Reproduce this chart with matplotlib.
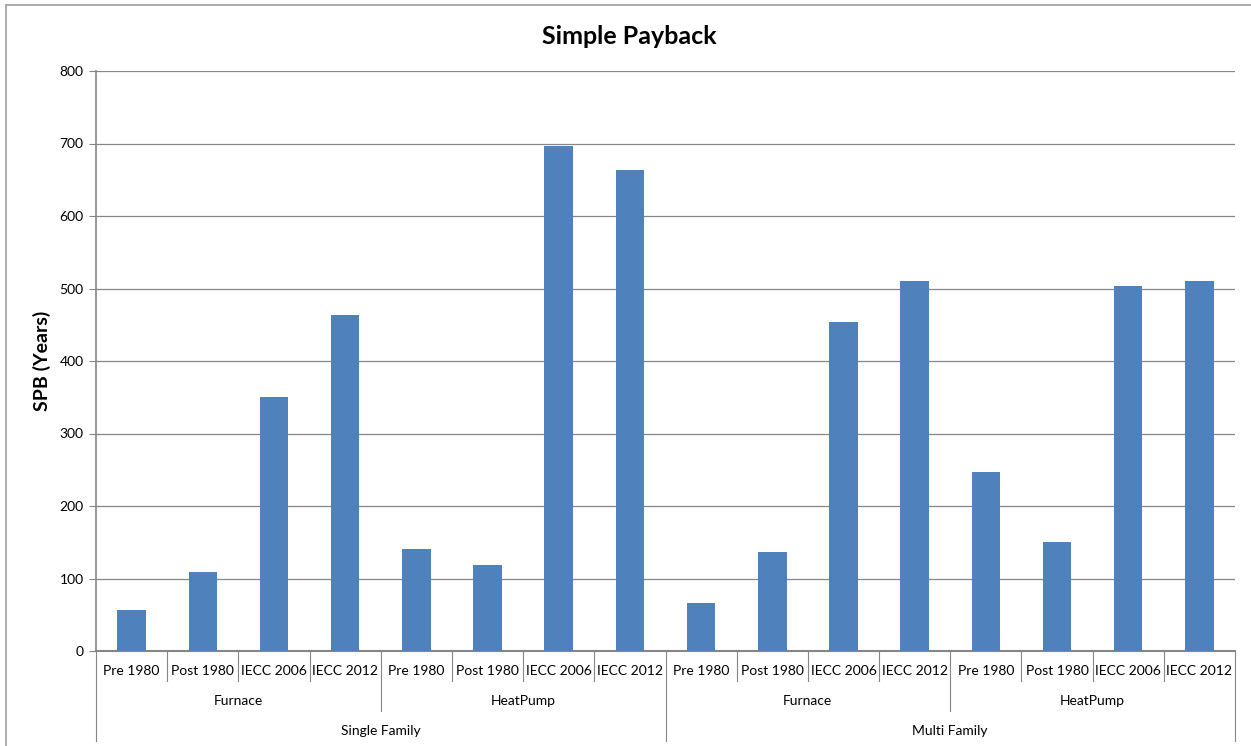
import matplotlib
matplotlib.use('Agg')
import matplotlib.pyplot as plt
from matplotlib.lines import Line2D

plt.rcParams['font.family'] = ['Lato', 'DejaVu Sans']

# data
vintages = ['Pre 1980', 'Post 1980', 'IECC 2006', 'IECC 2012']
systems = ['Furnace', 'HeatPump']
buildings = ['Single Family', 'Multi Family']
sf_furnace = [56, 109, 350, 463]
sf_heatpump = [141, 119, 697, 664]
mf_furnace = [66, 137, 454, 510]
mf_heatpump = [247, 150, 503, 510]

values = sf_furnace + sf_heatpump + mf_furnace + mf_heatpump
labels = vintages * 4
n = len(values)

fig = plt.figure(figsize=(12.51, 7.46), dpi=100)
ax = fig.add_axes([96 / 1251, 95 / 746, 1139 / 1251, 580 / 746])

bar_color = '#4F81BD'
line_color = '#868686'

ax.bar(range(n), values, width=0.4, color=bar_color, zorder=3)
ax.set_xlim(-0.5, n - 0.5)
ax.set_ylim(0, 800)
ax.set_yticks(range(0, 801, 100))
ax.yaxis.grid(True, color=line_color, linewidth=0.9)
ax.set_axisbelow(True)
for s in ['top', 'right']:
    ax.spines[s].set_visible(False)
ax.spines['left'].set_color(line_color)
ax.spines['bottom'].set_color(line_color)
ax.spines['left'].set_linewidth(1.2)
ax.spines['bottom'].set_linewidth(1.5)
ax.tick_params(axis='y', length=5, color=line_color, labelsize=10, pad=4)
ax.set_xticks([])
ax.set_ylabel('SPB (Years)', fontsize=14, fontweight='bold', labelpad=6)
# title is centred on the whole chart, not on the plot area
fig.text(629 / 1251, 1 - 36 / 746, 'Simple Payback', fontsize=18,
         fontweight='bold', ha='center', va='center')

# multi-level category axis
tr = ax.get_xaxis_transform()
h = 580.0
row1, row2, row3 = -30 / h, -60 / h, -90 / h


def sep(x, depth):
    ax.add_line(Line2D([x, x], [0, depth], transform=tr, color=line_color,
                       linewidth=0.8, clip_on=False))


for i, lab in enumerate(labels):
    ax.text(i, -20 / h, lab, transform=tr, ha='center', va='center', fontsize=10)
    if i > 0 and i % 4 != 0:
        sep(i - 0.5, row1)

for j in range(4):
    ax.text(j * 4 + 1.5, -50 / h, systems[j % 2], transform=tr,
            ha='center', va='center', fontsize=10)
    if j % 2 == 1:
        sep(j * 4 - 0.5, row2)

for k in range(2):
    ax.text(k * 8 + 3.5, -80 / h, buildings[k], transform=tr,
            ha='center', va='center', fontsize=10)

sep(-0.5, row3)
sep(7.5, row3)
sep(n - 0.5, row3)

# chart border
fig.add_artist(Line2D([6 / 1251, 1], [1 - 4.5 / 746, 1 - 4.5 / 746],
                      transform=fig.transFigure, color='#A0A0A0', linewidth=1.2))
fig.add_artist(Line2D([6 / 1251, 6 / 1251], [0, 1 - 4.5 / 746],
                      transform=fig.transFigure, color='#A0A0A0', linewidth=1.2))

fig.savefig('out.png', dpi=100)
